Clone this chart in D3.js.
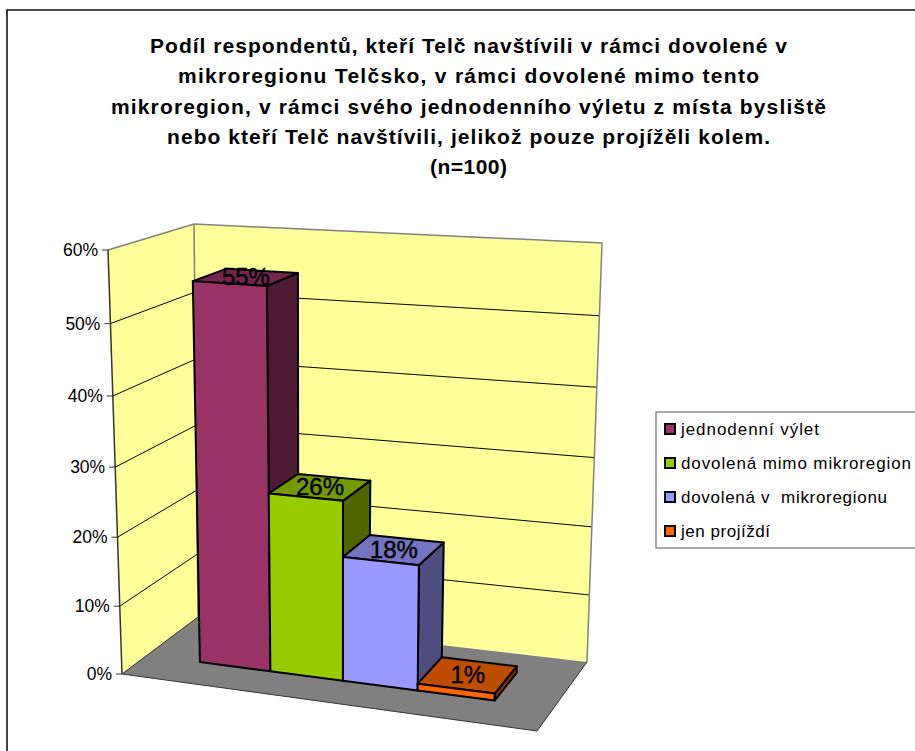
<!DOCTYPE html>
<html><head><meta charset="utf-8">
<script src="https://cdn.jsdelivr.net/npm/d3@7"></script>
<style>html,body{margin:0;padding:0;background:#fff}svg{display:block}text{font-family:"Liberation Sans",Arial,sans-serif;fill:#000}</style>
</head><body><div id="c"></div>
<script>
const titleLines = ["Podíl respondentů, kteří Telč navštívili v rámci dovolené v","mikroregionu Telčsko, v rámci dovolené mimo tento","mikroregion, v rámci svého jednodenního výletu z místa bysliště","nebo kteří Telč navštívili, jelikož pouze projížěli kolem.","(n=100)"];
const categories = ["jednodenní výlet","dovolená mimo mikroregion","dovolená v  mikroregionu","jen projíždí"];
const values = [55,26,18,1];
const barColors = ["#993366","#99CC00","#9999FF","#FF6600"];
const sideColors = ["#4D1A33","#4D6600","#4D4D80","#803300"];
const topColors = ["#732650","#739900","#7373BF","#BF4D00"];
const ticks = [0,10,20,30,40,50,60];

const W=915,H=751;
const svg=d3.select("#c").append("svg").attr("width",W).attr("height",H);
svg.append("path").attr("d",`M${W},10 H7 V${H}`).attr("fill","none").attr("stroke","#111").attr("stroke-width",1.6);

// title
const titleWidths=[637,581,715,603,77];
svg.append("g").selectAll("text").data(titleLines).join("text")
 .attr("x",468.5).attr("y",(d,i)=>d3.scaleLinear([0,4],[53,174])(i))
 .attr("text-anchor","middle").attr("font-weight","bold").attr("font-size",21)
 .attr("textLength",(d,i)=>titleWidths[i]).attr("lengthAdjust","spacing")
 .text(d=>d);

// box corners: floor and top plane
const floor={fl:[122,674],fr:[537,731],br:[587,662],bl:[198,617]};
const ceil ={fl:[108,250],fr:[547,279],br:[602,243],bl:[194,224]};
const lerp=(a,b,t)=>[a[0]+(b[0]-a[0])*t,a[1]+(b[1]-a[1])*t];
const plane=(q,x,z)=>lerp(lerp(q.fl,q.fr,x),lerp(q.bl,q.br,x),z);
const yScale=d3.scaleLinear().domain([0,60]).range([0,1]);
const persp=1.05;
const project=(x,v,z)=>{const u=yScale(v),s=u/(u+persp*(1-u));return lerp(plane(floor,x,z),plane(ceil,x,z),s);};
const line=d3.line();
const poly=(g,pts,fill,stroke,sw)=>g.append("path").attr("d",line(pts)+"Z").attr("fill",fill).attr("stroke",stroke||"none").attr("stroke-width",sw||0).attr("stroke-linejoin","round");

const plot=svg.append("g");
poly(plot,[project(0,0,0),project(0,60,0),project(0,60,1),project(0,0,1)],"#FFFF99");
poly(plot,[project(0,0,1),project(0,60,1),project(1,60,1),project(1,0,1)],"#FFFF99");
ticks.filter(t=>t>0&&t<60).forEach(t=>{
  plot.append("path").attr("d",line([project(0,t,0),project(0,t,1),project(1,t,1)])).attr("fill","none").attr("stroke","#000").attr("stroke-width",1);
});
poly(plot,[project(0,0,0),project(1,0,0),project(1,0,1),project(0,0,1)],"#808080");
plot.append("path").attr("d",line([project(0,0,1),project(0,0,0),project(1,0,0),project(1,0,1)])).attr("fill","none").attr("stroke","#333").attr("stroke-width",1);
plot.append("path").attr("d",line([project(0,60,0),project(0,60,1),project(1,60,1),project(1,0,1)])).attr("fill","none").attr("stroke","#808080").attr("stroke-width",1.5);
plot.append("path").attr("d",line([project(0,60,1),project(0,0,1)])).attr("fill","none").attr("stroke","#808080").attr("stroke-width",1.5);
plot.append("path").attr("d",line([project(0,60,0),project(0,0,0)])).attr("fill","none").attr("stroke","#333").attr("stroke-width",1.5);
ticks.forEach(t=>{
  const p=project(0,t,0);
  plot.append("line").attr("x1",p[0]-6).attr("x2",p[0]).attr("y1",p[1]).attr("y2",p[1]).attr("stroke","#333").attr("stroke-width",1);
  plot.append("text").attr("x",p[0]-10).attr("y",p[1]+6).attr("text-anchor","end").attr("font-size",17.5).attr("fill","#1a1a1a").text(t+"%");
});
// bars: band edges with slight perspective along the width
const bandPos=d3.scaleLinear().domain([0,categories.length]).range([0,1]);
const xRange=d3.scaleLinear().domain([0,1]).range([0.13,0.855]);
const edge=i=>{const t=bandPos(i);return xRange(t/(t+1.06*(1-t)));};
const z0=0.33,z1=0.74;
categories.forEach((c,i)=>{
  const a=edge(i),b=edge(i+1),v=values[i];
  const g=plot.append("g");
  poly(g,[project(b,0,z0),project(b,0,z1),project(b,v,z1),project(b,v,z0)],sideColors[i],"#000",2);
  poly(g,[project(a,v,z0),project(b,v,z0),project(b,v,z1),project(a,v,z1)],topColors[i],"#000",2);
  poly(g,[project(a,0,z0),project(b,0,z0),project(b,v,z0),project(a,v,z0)],barColors[i],"#000",2);
});
categories.forEach((c,i)=>{
  const p=project((edge(i)+edge(i+1))/2,values[i],(z0+z1)/2);
  plot.append("text").attr("x",p[0]).attr("y",p[1]+8).attr("text-anchor","middle").attr("font-size",24).attr("stroke","#000").attr("stroke-width",0.4).text(values[i]+"%");
});
// legend
const legendWidths=[138,230,206,89];
const lg=svg.append("g");
lg.append("rect").attr("x",656).attr("y",412).attr("width",270).attr("height",136).attr("fill","#fff").attr("stroke","#555").attr("stroke-width",1);
const rowY=d3.scalePoint().domain(categories).range([429,531]);
categories.forEach((c,i)=>{
  lg.append("rect").attr("x",665).attr("y",rowY(c)-5).attr("width",10).attr("height",10).attr("fill",barColors[i]).attr("stroke","#000").attr("stroke-width",2);
  lg.append("text").attr("x",681).attr("y",rowY(c)+6).attr("font-size",17).attr("textLength",legendWidths[i]).attr("lengthAdjust","spacing").attr("xml:space","preserve").style("white-space","pre").text(c);
});
</script></body></html>
